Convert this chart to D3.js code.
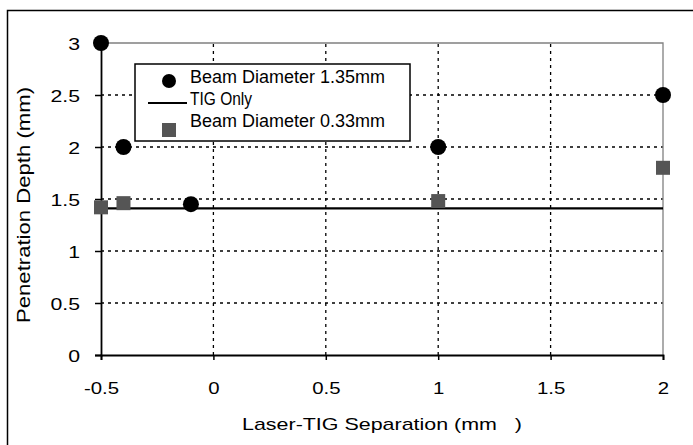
<!DOCTYPE html>
<html>
<head>
<meta charset="utf-8">
<script src="https://cdn.jsdelivr.net/npm/d3@7"></script>
<style>
  body { margin: 0; background: #fff; }
  text { font-family: "Liberation Sans", Arial, sans-serif; }
</style>
</head>
<body>
<svg id="chart" width="693" height="445"></svg>
<script>
const xTicks = [-0.5, 0, 0.5, 1, 1.5, 2]
const yTicks = [0, 0.5, 1, 1.5, 2, 2.5, 3]

// Beam Diameter 1.35mm
const bigX = [-0.5, -0.4, -0.1, 1, 2]
const bigY = [3, 2, 1.45, 2, 2.5]
// Beam Diameter 0.33mm
const smallX = [-0.5, -0.4, 1, 2]
const smallY = [1.42, 1.46, 1.48, 1.8]
// TIG Only
const tigX = [-0.5, 2]
const tigY = [1.41, 1.41]

const svg = d3.select('#chart')

// outer frame
svg.append('rect')
    .attr('x', 7.5).attr('y', 10.5)
    .attr('width', 700).attr('height', 460)
    .attr('fill', 'none').attr('stroke', '#000').attr('stroke-width', 1.5)

const x = d3.scaleLinear().domain([-0.5, 2]).range([101, 663])
const y = d3.scaleLinear().domain([0, 3]).range([355, 43])

// grid
svg.append('g').selectAll('line')
    .data(yTicks.filter(d => d > 0 && d < 3))
    .join('line')
    .attr('x1', x(-0.5)).attr('x2', x(2))
    .attr('y1', d => y(d)).attr('y2', d => y(d))
    .attr('stroke', '#000').attr('stroke-width', 1.3)
    .attr('stroke-dasharray', '3,4')

svg.append('g').selectAll('line')
    .data(xTicks.filter(d => d > -0.5 && d < 2))
    .join('line')
    .attr('y1', y(0)).attr('y2', y(3))
    .attr('x1', d => x(d)).attr('x2', d => x(d))
    .attr('stroke', '#000').attr('stroke-width', 1.3)
    .attr('stroke-dasharray', '3,4')

// plot border top & right
svg.append('path')
    .attr('d', `M${x(-0.5)},${y(3)}H${x(2)}V${y(0)}`)
    .attr('fill', 'none').attr('stroke', '#808080').attr('stroke-width', 1.3)

// axes
const fmt = d => String(d)
const xAxis = svg.append('g')
    .attr('transform', `translate(0,${y(0)})`)
    .call(d3.axisBottom(x).tickValues(xTicks).tickSize(5).tickFormat(fmt))
xAxis.select('.domain').attr('stroke-width', 1.8)
xAxis.selectAll('.tick line').attr('stroke-width', 1.5)
xAxis.selectAll('text')
    .style('font-size', '17px').attr('dy', 0).attr('y', 39)
    .attr('transform', 'scale(1.2,1)')

const yAxis = svg.append('g')
    .attr('transform', `translate(${x(-0.5)},0)`)
    .call(d3.axisLeft(y).tickValues(yTicks).tickSize(6).tickFormat(fmt))
yAxis.select('.domain').attr('stroke-width', 1.8)
yAxis.selectAll('.tick line').attr('stroke-width', 1.5)
yAxis.selectAll('text')
    .style('font-size', '17px').attr('x', -21 / 1.25).attr('dy', '0.36em')
    .attr('transform', 'scale(1.25,1)')

svg.selectAll('.domain').attr('stroke', '#000')

// TIG line
svg.append('path')
    .datum(tigX.map((d, i) => [d, tigY[i]]))
    .attr('d', d3.line().x(d => x(d[0])).y(d => y(d[1])))
    .attr('stroke', '#000').attr('stroke-width', 2.2).attr('fill', 'none')

// squares
svg.append('g').selectAll('rect')
    .data(smallX.map((d, i) => [d, smallY[i]]))
    .join('rect')
    .attr('x', d => x(d[0]) - 7).attr('y', d => y(d[1]) - 7)
    .attr('width', 14).attr('height', 14)
    .attr('fill', '#555')

// circles
svg.append('g').selectAll('circle')
    .data(bigX.map((d, i) => [d, bigY[i]]))
    .join('circle')
    .attr('cx', d => x(d[0])).attr('cy', d => y(d[1]))
    .attr('r', 8).attr('fill', '#000')

// legend
const lg = svg.append('g')
lg.append('rect')
    .attr('x', 135).attr('y', 64).attr('width', 275).attr('height', 77)
    .attr('fill', '#fff').attr('stroke', '#000').attr('stroke-width', 1.5)
lg.append('circle').attr('cx', 169).attr('cy', 81).attr('r', 7).attr('fill', '#000')
lg.append('line').attr('x1', 148).attr('x2', 187).attr('y1', 103).attr('y2', 103)
    .attr('stroke', '#000').attr('stroke-width', 2.2)
lg.append('rect').attr('x', 162).attr('y', 123).attr('width', 14).attr('height', 14).attr('fill', '#555')
const labels = ['Beam Diameter 1.35mm', 'TIG Only', 'Beam Diameter 0.33mm']
const labelW = [195, 62, 195]
lg.selectAll('text.l')
    .data(labels)
    .join('text')
    .attr('class', 'l')
    .attr('x', 190)
    .attr('y', (d, i) => 83 + i * 22)
    .style('font-size', '17.5px')
    .attr('textLength', (d, i) => labelW[i])
    .attr('lengthAdjust', 'spacingAndGlyphs')
    .text(d => d)

// axis titles
svg.append('text')
    .attr('x', 242).attr('y', 430)
    .style('font-size', '17px')
    .attr('textLength', 280)
    .attr('lengthAdjust', 'spacingAndGlyphs')
    .attr('xml:space', 'preserve')
    .text('Laser-TIG Separation (mm   )')

svg.append('text')
    .attr('transform', 'translate(30,323) rotate(-90)')
    .style('font-size', '19px')
    .attr('textLength', 236)
    .attr('lengthAdjust', 'spacingAndGlyphs')
    .text('Penetration Depth (mm)')
</script>
</body>
</html>
